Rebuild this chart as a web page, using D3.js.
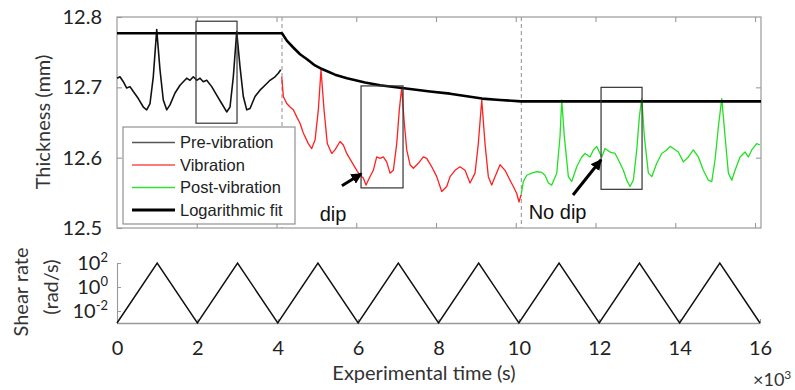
<!DOCTYPE html>
<html>
<head>
<meta charset="utf-8">
<script src="https://cdn.jsdelivr.net/npm/d3@7"></script>
<style>
body { margin: 0; background: #fff; }
svg { display: block; }
</style>
</head>
<body>
<div id="chart"></div>
<script>
/* global d3 */

// thickness traces, [time (s), thickness (mm)]
var preVibration = [
    [0, 12.713], [75, 12.715], [158, 12.708], [243, 12.699], [326, 12.701], [409, 12.694],
    [534, 12.684], [660, 12.672], [745, 12.668], [828, 12.677], [910, 12.715], [996, 12.782],
    [1078, 12.725], [1161, 12.682], [1246, 12.668], [1329, 12.675], [1455, 12.692], [1580, 12.703],
    [1663, 12.708], [1748, 12.713], [1831, 12.710], [1914, 12.715], [1999, 12.710], [2082, 12.713],
    [2164, 12.708], [2250, 12.710], [2375, 12.701], [2500, 12.689], [2626, 12.677], [2751, 12.665],
    [2834, 12.672], [2917, 12.715], [3002, 12.779], [3085, 12.729], [3168, 12.687], [3253, 12.668],
    [3336, 12.670], [3461, 12.687], [3586, 12.696], [3712, 12.703], [3837, 12.710], [3963, 12.715],
    [4045, 12.720], [4106, 12.725]
];
var vibration = [
    [4131, 12.715], [4171, 12.687], [4256, 12.677], [4339, 12.672], [4422, 12.668], [4507, 12.658],
    [4590, 12.649], [4672, 12.635], [4798, 12.620], [4883, 12.613], [4966, 12.625], [5049, 12.668],
    [5116, 12.725], [5192, 12.668], [5274, 12.620], [5385, 12.606], [5467, 12.611], [5593, 12.623],
    [5676, 12.618], [5761, 12.606], [5886, 12.594], [6012, 12.582], [6094, 12.575], [6177, 12.571],
    [6245, 12.561], [6328, 12.571], [6428, 12.582], [6513, 12.601], [6596, 12.599], [6679, 12.601],
    [6764, 12.594], [6847, 12.578], [6930, 12.582], [7015, 12.620], [7080, 12.668], [7140, 12.700],
    [7198, 12.654], [7266, 12.611], [7348, 12.590], [7431, 12.585], [7557, 12.592], [7682, 12.601],
    [7767, 12.599], [7893, 12.587], [8018, 12.573], [8143, 12.552], [8269, 12.559], [8352, 12.573],
    [8477, 12.582], [8602, 12.587], [8728, 12.582], [8853, 12.564], [8979, 12.578], [9061, 12.620],
    [9147, 12.682], [9229, 12.620], [9312, 12.573], [9397, 12.561], [9480, 12.573], [9606, 12.590],
    [9731, 12.582], [9856, 12.568], [9939, 12.559], [10024, 12.549], [10082, 12.537], [10132, 12.547]
];
var postVibration = [
    [10140, 12.549], [10190, 12.566], [10275, 12.575], [10401, 12.578], [10526, 12.580], [10651, 12.579], [10734, 12.575],
    [10817, 12.564], [10902, 12.561], [11028, 12.578], [11110, 12.630], [11153, 12.682], [11218, 12.630],
    [11319, 12.573], [11404, 12.566], [11529, 12.587], [11655, 12.601], [11737, 12.606], [11863, 12.601],
    [11946, 12.611], [12031, 12.616], [12114, 12.606], [12156, 12.601], [12239, 12.613], [12364, 12.608],
    [12490, 12.606], [12573, 12.597], [12698, 12.582], [12783, 12.568], [12866, 12.559], [12949, 12.568],
    [13034, 12.611], [13099, 12.658], [13159, 12.684], [13225, 12.630], [13325, 12.578], [13410, 12.573],
    [13536, 12.592], [13661, 12.606], [13786, 12.611], [13869, 12.616], [13952, 12.613], [14077, 12.608],
    [14203, 12.594], [14328, 12.601], [14454, 12.611], [14579, 12.601], [14704, 12.582], [14830, 12.568],
    [14915, 12.566], [14998, 12.597], [15081, 12.644], [15166, 12.684], [15249, 12.630], [15332, 12.578],
    [15417, 12.568], [15500, 12.582], [15625, 12.601], [15750, 12.608], [15833, 12.601], [15918, 12.611],
    [16043, 12.620], [16126, 12.618]
];
var logFit = [
    [0, 12.777], [4138, 12.777], [4264, 12.766], [4414, 12.757], [4590, 12.747], [4765, 12.740],
    [4941, 12.732], [5141, 12.726], [5467, 12.718], [5768, 12.713], [6220, 12.707], [6596, 12.703],
    [7148, 12.699], [7850, 12.694], [8352, 12.691], [9154, 12.684], [9606, 12.682], [10132, 12.680],
    [16150, 12.680]
];

// shear rate sweep (rad/s)
var shearTime = [0, 1000, 2000, 3000, 4000, 5000, 6000, 7000, 8000, 9000, 10000, 11000, 12000, 13000, 14000, 15000, 16000];
var shearRate = [0.001, 100, 0.001, 100, 0.001, 100, 0.001, 100, 0.001, 100, 0.001, 100, 0.001, 100, 0.001, 100, 0.001];

// ticks
var timeTicks = [0, 2000, 4000, 6000, 8000, 10000, 12000, 14000, 16000];
var thickTicks = [12.5, 12.6, 12.7, 12.8];
var shearExponents = [2, 0, -2];

// phase boundaries and annotations
var phaseBounds = [4138, 10140];
var boxes = [
    {t0: 1981, t1: 3010, lo: 12.649, hi: 12.794},
    {t0: 6120, t1: 7173, lo: 12.557, hi: 12.702},
    {t0: 12139, t1: 13167, lo: 12.555, hi: 12.700}
];
var notes = [
    {label: "dip", tx: 5417, ty: 12.510, from: [5640, 12.560], to: [6130, 12.577]},
    {label: "No dip", tx: 11048, ty: 12.513, from: [11436, 12.547], to: [12140, 12.597]}
];

var legendItems = [
    {name: "Pre-vibration", color: "#555", w: 1.3},
    {name: "Vibration", color: "#ff4d4d", w: 1.5},
    {name: "Post-vibration", color: "#33dd33", w: 1.5},
    {name: "Logarithmic fit", color: "#000", w: 3}
];

var width = 795, height = 390;
var frameColor = "#9a9a9a";
var labelFont = "Lato, 'Open Sans', sans-serif";

var svg = d3.select("#chart")
        .append("svg")
        .attr("width", width)
        .attr("height", height);

var xTop = d3.scaleLinear().domain([0, 16150]).range([117, 761]);
var yTop = d3.scaleLinear().domain([12.5, 12.8]).range([228, 17]);
var xBot = d3.scaleLinear().domain([0, 16000]).range([117, 760]);
var yBot = d3.scaleLog().domain([1e-3, 1e2]).range([323, 263]);

// ---- upper panel frame and ticks
var upper = svg.append("g");

upper.append("rect")
        .attr("x", xTop(0))
        .attr("y", yTop(12.8))
        .attr("width", xTop(16150) - xTop(0))
        .attr("height", yTop(12.5) - yTop(12.8))
        .attr("fill", "none")
        .attr("stroke", frameColor)
        .attr("stroke-width", 1.2);

function styleAxis(g) {
    g.select(".domain").remove();
    g.selectAll(".tick line").attr("stroke", frameColor).attr("stroke-width", 1.1);
    g.selectAll(".tick text")
            .style("font-family", labelFont)
            .style("font-size", "20px")
            .attr("fill", "#222");
}

upper.append("g")
        .attr("transform", "translate(0," + yTop(12.5) + ")")
        .call(d3.axisBottom(xTop).tickValues(timeTicks.slice(1)).tickSize(-5).tickFormat(""))
        .call(styleAxis);
upper.append("g")
        .attr("transform", "translate(0," + yTop(12.8) + ")")
        .call(d3.axisTop(xTop).tickValues(timeTicks.slice(1)).tickSize(-5).tickFormat(""))
        .call(styleAxis);
upper.append("g")
        .attr("transform", "translate(" + xTop(0) + ",0)")
        .call(d3.axisLeft(yTop).tickValues(thickTicks).tickSize(-5).tickPadding(15).tickFormat(d3.format(".1f")))
        .call(styleAxis);
upper.append("g")
        .attr("transform", "translate(" + xTop(16150) + ",0)")
        .call(d3.axisRight(yTop).tickValues([12.6, 12.7]).tickSize(-5).tickFormat(""))
        .call(styleAxis);

// phase boundaries
upper.selectAll("line.phase")
        .data(phaseBounds)
        .enter()
        .append("line")
        .attr("class", "phase")
        .attr("x1", function (d) { return xTop(d); })
        .attr("x2", function (d) { return xTop(d); })
        .attr("y1", yTop(12.8))
        .attr("y2", yTop(12.5))
        .attr("stroke", "#999")
        .attr("stroke-width", 1.1)
        .attr("stroke-dasharray", "4,3");

// ---- traces
var thickLine = d3.line()
        .x(function (d) { return xTop(d[0]); })
        .y(function (d) { return yTop(d[1]); });

upper.append("path").datum(preVibration)
        .attr("d", thickLine).attr("fill", "none")
        .attr("stroke", "#111").attr("stroke-width", 1.6).attr("stroke-linejoin", "round");
upper.append("path").datum(vibration)
        .attr("d", thickLine).attr("fill", "none")
        .attr("stroke", "#ff2020").attr("stroke-width", 1.3).attr("stroke-linejoin", "round");
upper.append("path").datum(postVibration)
        .attr("d", thickLine).attr("fill", "none")
        .attr("stroke", "#22e022").attr("stroke-width", 1.3).attr("stroke-linejoin", "round");
upper.append("path").datum(logFit)
        .attr("d", thickLine).attr("fill", "none")
        .attr("stroke", "#000").attr("stroke-width", 2.6).attr("stroke-linejoin", "round");

// annotation boxes
upper.selectAll("rect.box")
        .data(boxes)
        .enter()
        .append("rect")
        .attr("class", "box")
        .attr("x", function (d) { return xTop(d.t0); })
        .attr("y", function (d) { return yTop(d.hi); })
        .attr("width", function (d) { return xTop(d.t1) - xTop(d.t0); })
        .attr("height", function (d) { return yTop(d.lo) - yTop(d.hi); })
        .attr("fill", "none")
        .attr("stroke", "#333")
        .attr("stroke-width", 1.2);

// arrows
svg.append("defs").append("marker")
        .attr("id", "head")
        .attr("viewBox", "0 0 10 10")
        .attr("refX", 9).attr("refY", 5)
        .attr("markerWidth", 11).attr("markerHeight", 11)
        .attr("markerUnits", "userSpaceOnUse")
        .attr("orient", "auto")
        .append("path")
        .attr("d", "M0,0 L10,5 L0,10 z")
        .attr("fill", "#000");

notes.forEach(function (n) {
    upper.append("line")
            .attr("x1", xTop(n.from[0])).attr("y1", yTop(n.from[1]))
            .attr("x2", xTop(n.to[0])).attr("y2", yTop(n.to[1]))
            .attr("stroke", "#000").attr("stroke-width", 3)
            .attr("marker-end", "url(#head)");
    upper.append("text")
            .text(n.label)
            .attr("x", xTop(n.tx))
            .attr("y", yTop(n.ty))
            .attr("text-anchor", "middle")
            .style("font-family", "'Liberation Sans', Arial, sans-serif")
            .style("font-size", "20px")
            .attr("fill", "#111");
});

// legend
var legend = upper.append("g").attr("transform", "translate(123,127)");
legend.append("rect")
        .attr("width", 172).attr("height", 97)
        .attr("fill", "#fff").attr("stroke", "#888").attr("stroke-width", 1.1);
var items = legend.selectAll("g.item")
        .data(legendItems)
        .enter()
        .append("g")
        .attr("class", "item")
        .attr("transform", function (d, i) { return "translate(0," + (15.5 + i * 22.5) + ")"; });
items.append("line")
        .attr("x1", 9).attr("x2", 52)
        .attr("stroke", function (d) { return d.color; })
        .attr("stroke-width", function (d) { return d.w; });
items.append("text")
        .text(function (d) { return d.name; })
        .attr("x", 57).attr("dy", "0.35em")
        .style("font-family", "'Liberation Sans', Arial, sans-serif")
        .style("font-size", "16.5px")
        .attr("fill", "#222");

svg.append("text")
        .text("Thickness (mm)")
        .attr("transform", "translate(50,122) rotate(-90)")
        .attr("text-anchor", "middle")
        .style("font-family", labelFont)
        .style("font-size", "20px")
        .attr("fill", "#333");

// ---- lower panel
var lower = svg.append("g");

lower.append("g")
        .attr("transform", "translate(" + xBot(0) + ",0)")
        .call(d3.axisLeft(yBot).tickValues([1e-2, 1, 1e2]).tickSize(-4).tickSizeOuter(-4).tickFormat(""))
        .call(function (g) {
            g.select(".domain").attr("stroke", frameColor).attr("stroke-width", 1.1);
            g.selectAll(".tick line").attr("stroke", frameColor);
        });

lower.append("g")
        .attr("transform", "translate(0," + yBot(1e-3) + ")")
        .call(d3.axisBottom(xBot).tickValues(timeTicks).tickSize(-4).tickSizeOuter(0).tickPadding(18)
                .tickFormat(function (d) { return d / 1000; }))
        .call(function (g) {
            g.select(".domain").attr("stroke", frameColor).attr("stroke-width", 1.3);
            g.selectAll(".tick line").attr("stroke", frameColor);
            g.selectAll(".tick text")
                    .style("font-family", labelFont)
                    .style("font-size", "20px")
                    .attr("fill", "#222");
        });

var expLabels = lower.selectAll("text.exp")
        .data(shearExponents)
        .enter()
        .append("text")
        .attr("class", "exp")
        .attr("x", 108)
        .attr("y", function (d) { return yBot(Math.pow(10, d)) + 7; })
        .attr("text-anchor", "end")
        .style("font-family", labelFont)
        .style("font-size", "20px")
        .attr("fill", "#222");
expLabels.append("tspan").text("10");
expLabels.append("tspan")
        .text(function (d) { return d < 0 ? "-" + Math.abs(d) : d; })
        .attr("dy", -8)
        .style("font-size", "13px");

var shearLine = d3.line()
        .x(function (d, i) { return xBot(shearTime[i]); })
        .y(function (d) { return yBot(d); });
lower.append("path").datum(shearRate)
        .attr("d", shearLine).attr("fill", "none")
        .attr("stroke", "#111").attr("stroke-width", 1.5);

svg.append("text")
        .attr("transform", "translate(28,292) rotate(-90)")
        .attr("text-anchor", "middle")
        .style("font-family", labelFont)
        .style("font-size", "20px")
        .attr("fill", "#333")
        .text("Shear rate");
svg.append("text")
        .attr("transform", "translate(58,287) rotate(-90)")
        .attr("text-anchor", "middle")
        .style("font-family", labelFont)
        .style("font-size", "20px")
        .attr("fill", "#333")
        .text("(rad/s)");

svg.append("text")
        .text("Experimental time (s)")
        .attr("x", 424).attr("y", 380)
        .attr("text-anchor", "middle")
        .style("font-family", labelFont)
        .style("font-size", "20px")
        .attr("fill", "#333");

var mult = svg.append("text")
        .attr("x", 753).attr("y", 386)
        .style("font-family", labelFont)
        .style("font-size", "18px")
        .attr("fill", "#333");
mult.append("tspan").text("\u00d710");
mult.append("tspan").text("3").attr("dy", -7).style("font-size", "12px");
</script>
</body>
</html>
